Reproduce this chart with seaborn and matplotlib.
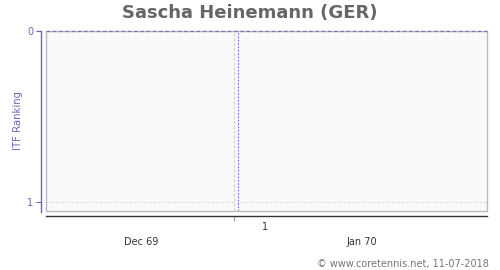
import matplotlib
matplotlib.use("Agg")
import matplotlib.pyplot as plt
import matplotlib.transforms as mtransforms
from matplotlib.patches import Rectangle
import seaborn as sns
import pandas as pd

# ---- data ----
title = "Sascha Heinemann (GER)"
y_label = "ITF Ranking"
footer = "© www.coretennis.net, 11-07-2018"
# x in days relative to 1 Jan 1970
x_range = [-23.7, 31.3]
rank_ticks = [0, 1]
rank_dates = [x_range[0], x_range[1]]
rank_values = [0, 0]
month_labels = ["Dec 69", "Jan 70"]
month_centers = [-11.85, 15.65]
month_boundaries = [0]
week_labels = ["1"]
week_centers = [3.6]
marker_dates = [0.25]

sns.set_theme(style="white")
plt.rcParams['font.family'] = ['DejaVu Sans']

fig = plt.figure(figsize=(5, 2.7), dpi=100)
W, H = 500, 270
ax = fig.add_axes([46 / W, 1 - 211 / H, (487 - 46) / W, (211 - 31) / H])
ax.set_facecolor("#f9f9f9")

df = pd.DataFrame({"date": rank_dates, "rank": rank_values})
sns.lineplot(data=df, x="date", y="rank", ax=ax, color="#7777bb",
             linestyle=(0, (3, 2)), linewidth=0.9, zorder=5, clip_on=False)

ax.set_xlim(*x_range)
ax.set_ylim(1 + 9 / 171, 0)

# grid
for r in rank_ticks[1:]:
    ax.axhline(r, color="#dddddd", linestyle=(0, (3, 2)), linewidth=0.7, zorder=0)
for b in month_boundaries:
    ax.axvline(b - 0.25, color="#cccccc", linestyle=(0, (3, 2)), linewidth=0.7, zorder=0)
for m in marker_dates:
    ax.axvline(m, color="#6666ff", linestyle=(0, (1.5, 1.5)), linewidth=0.8, zorder=1)

# frame
ax.add_patch(Rectangle((0, 0), 1, 1, transform=ax.transAxes, fill=False,
                       edgecolor="#bbbbbb", linewidth=1.0, zorder=3, clip_on=False))
for s in ["top", "right"]:
    ax.spines[s].set_visible(False)
ax.spines["left"].set_position(("outward", 3.6))
ax.spines["left"].set_color("#6666bb")
ax.spines["left"].set_linewidth(1.0)
ax.spines["left"].set_bounds(-0.0, 1 + 9 / 171 + 0.005)
ax.spines["bottom"].set_position(("outward", 3.6))
ax.spines["bottom"].set_color("#333333")
ax.spines["bottom"].set_linewidth(1.0)

ax.set_yticks(rank_ticks)
ax.set_yticklabels([str(t) for t in rank_ticks], color="#6666bb", fontsize=7)
ax.tick_params(axis="y", left=True, length=3.5, width=0.8, color="#6666bb", pad=2)

ax.set_xticks([b - 0.25 for b in month_boundaries])
ax.set_xticklabels([])
ax.tick_params(axis="x", bottom=True, length=3.5, width=0.8, color="#999999")

ax.set_xlabel("")
ax.set_ylabel(y_label, color="#6666bb", fontsize=7.3)
ax.yaxis.set_label_coords(-0.053, 0.5)

trans = mtransforms.blended_transform_factory(ax.transData, fig.transFigure)
for lab, c in zip(week_labels, week_centers):
    ax.text(c, 1 - 227 / H, lab, transform=trans, ha="center", va="center",
            fontsize=7, color="#333333")
for lab, c in zip(month_labels, month_centers):
    ax.text(c, 1 - 242 / H, lab, transform=trans, ha="center", va="center",
            fontsize=7, color="#333333")

fig.text(0.5, 1 - 13 / H, title, ha="center", va="center", fontsize=13,
         fontweight="bold", color="#666666")
fig.text(489 / W, 1 - 264 / H, footer, ha="right", va="center", fontsize=7,
         color="#777777")

fig.savefig("out.png", dpi=100)
